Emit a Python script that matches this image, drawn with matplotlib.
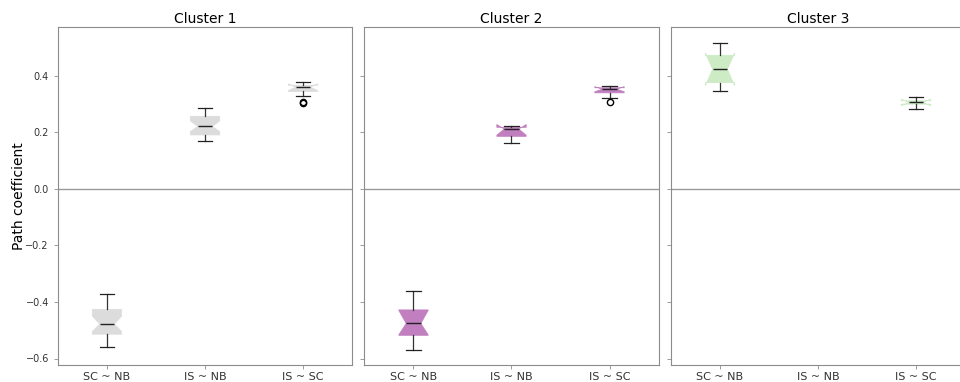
import numpy as np
import matplotlib
matplotlib.use("Agg")
import matplotlib.pyplot as plt

plt.rcParams['font.family'] = ['DejaVu Sans']

# paths and clusters
paths = ["SC ~ NB", "IS ~ NB", "IS ~ SC"]
clusters = ["Cluster 1", "Cluster 2", "Cluster 3"]
colors = ["#dcdcdc", "#c17fc0", "#cdebc5"]

# box statistics, one list per cluster, order = paths
# None = no box for that path in that cluster
c1_med   = [-0.478, 0.221, 0.360]
c1_q1    = [-0.514, 0.191, 0.345]
c1_q3    = [-0.426, 0.257, 0.367]
c1_lo    = [-0.558, 0.168, 0.328]
c1_hi    = [-0.372, 0.287, 0.378]
c1_cilo  = [-0.505, 0.203, 0.348]
c1_cihi  = [-0.450, 0.241, 0.372]
c1_fly   = [[], [], [0.303, 0.306]]

c2_med   = [-0.476, 0.212, 0.353]
c2_q1    = [-0.518, 0.186, 0.340]
c2_q3    = [-0.428, 0.218, 0.358]
c2_lo    = [-0.570, 0.162, 0.323]
c2_hi    = [-0.362, 0.224, 0.365]
c2_cilo  = [-0.516, 0.190, 0.344]
c2_cihi  = [-0.430, 0.228, 0.362]
c2_fly   = [[], [], [0.309]]

c3_med   = [0.424, None, 0.306]
c3_q1    = [0.376, None, 0.300]
c3_q3    = [0.473, None, 0.312]
c3_lo    = [0.348, None, 0.283]
c3_hi    = [0.516, None, 0.325]
c3_cilo  = [0.365, None, 0.294]
c3_cihi  = [0.481, None, 0.318]
c3_fly   = [[], [], []]

all_stats = [
    (c1_med, c1_q1, c1_q3, c1_lo, c1_hi, c1_cilo, c1_cihi, c1_fly),
    (c2_med, c2_q1, c2_q3, c2_lo, c2_hi, c2_cilo, c2_cihi, c2_fly),
    (c3_med, c3_q1, c3_q3, c3_lo, c3_hi, c3_cilo, c3_cihi, c3_fly),
]

fig, axes = plt.subplots(1, 3, figsize=(9.6, 3.82), dpi=100, sharey=True)
fig.subplots_adjust(left=58/960, right=965/960, top=1-27/382, bottom=1-365/382,
                    wspace=0.0425)

spine_col = "#8c8c8c"
for ax, name, col, st in zip(axes, clusters, colors, all_stats):
    med, q1, q3, lo, hi, cilo, cihi, fly = st
    bstats, pos = [], []
    for i in range(len(paths)):
        if med[i] is None:
            continue
        bstats.append(dict(med=med[i], q1=q1[i], q3=q3[i], whislo=lo[i],
                           whishi=hi[i], cilo=cilo[i], cihi=cihi[i],
                           fliers=fly[i]))
        pos.append(i + 1)
    ax.axhline(0, color="#999999", lw=1, zorder=0)
    ax.bxp(bstats, positions=pos, widths=0.3, shownotches=True,
           patch_artist=True,
           boxprops=dict(facecolor=col, edgecolor=col, lw=0.5),
           medianprops=dict(color="#222222", lw=1),
           whiskerprops=dict(color="#333333", lw=0.9),
           capprops=dict(color="#222222", lw=0.9),
           flierprops=dict(marker="o", markersize=4.5, markerfacecolor="none",
                           markeredgecolor="black", markeredgewidth=1))
    ax.set_xlim(0.5, 3.5)
    ax.set_xticks([1, 2, 3])
    ax.set_xticklabels(paths, fontsize=8)
    ax.set_title(name, fontsize=10, pad=3)
    for s in ax.spines.values():
        s.set_color(spine_col)
    ax.tick_params(axis="both", colors=spine_col, labelcolor="#333333",
                   length=3, width=0.6)
    ax.tick_params(axis="x", pad=2)
    ax.tick_params(axis="y", labelsize=7)

axes[0].set_ylim(-0.623, 0.573)
axes[0].set_yticks([-0.6, -0.4, -0.2, 0.0, 0.2, 0.4])
axes[0].set_ylabel("Path coefficient", fontsize=10)
axes[0].yaxis.set_label_coords(-0.11, 0.5)

fig.savefig("out.png", dpi=100)
